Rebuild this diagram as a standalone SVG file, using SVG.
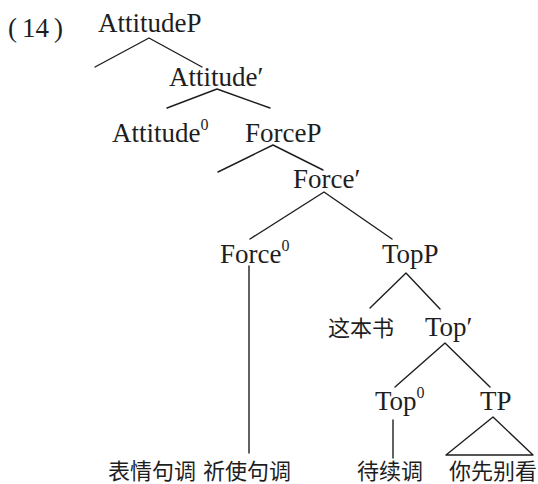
<svg xmlns="http://www.w3.org/2000/svg" width="538" height="484" viewBox="0 0 538 484">
<style>
  .lat { font-family: "Liberation Serif", "Times New Roman", serif; font-size: 27px; fill: #1e1e1e; }
  .sup { font-size: 16px; }
  .cjk { font-family: "Liberation Serif", "Noto Sans CJK SC", sans-serif; font-size: 22px; fill: #1e1e1e; }
  .edge { stroke: #1e1e1e; stroke-width: 1.4; fill: none; stroke-linecap: round; stroke-linejoin: round; }
</style>
<rect width="538" height="484" fill="#ffffff"/>
<text id="label" class="lat" x="8" y="37">(<tspan dx="5">14</tspan><tspan dx="5">)</tspan></text>
<g id="connectors">
  <path class="edge" d="M95,67 L149,38 L202,67"/>
  <path class="edge" d="M167,108 L217,89 L270,108"/>
  <path class="edge" d="M218,172 L273,145 L323,170"/>
  <path class="edge" d="M250,239 L324,192 L392,239"/>
  <path class="edge" d="M249,266 L249,453"/>
  <path class="edge" d="M370,308 L406,273 L440,309"/>
  <path class="edge" d="M395,387 L445,343 L490,387"/>
  <path class="edge" d="M393,420 L393,458"/>
  <path class="edge" d="M493,417 L446,455 L533,455 Z"/>
</g>
<g id="n-attitudeP"><text class="lat" x="98" y="32">AttitudeP</text></g>
<g id="n-attitudeBar"><text class="lat" x="169" y="86">Attitude′</text></g>
<g id="n-attitude0"><text class="lat" x="112" y="142">Attitude<tspan class="sup" dy="-12">0</tspan></text></g>
<g id="n-forceP"><text class="lat" x="245" y="142">ForceP</text></g>
<g id="n-forceBar"><text class="lat" x="293" y="188">Force′</text></g>
<g id="n-force0"><text class="lat" x="220" y="263">Force<tspan class="sup" dy="-12">0</tspan></text></g>
<g id="n-topP"><text class="lat" x="382" y="263">TopP</text></g>
<g id="n-zhebenshu"><text class="cjk" x="328" y="336">这本书</text></g>
<g id="n-topBar"><text class="lat" x="425" y="336">Top′</text></g>
<g id="n-top0"><text class="lat" x="375" y="410">Top<tspan class="sup" dy="-12">0</tspan></text></g>
<g id="n-TP"><text class="lat" x="480" y="410">TP</text></g>
<g id="n-force-leaves"><text class="cjk" x="108" y="479">表情句调</text><text class="cjk" x="203" y="479">祈使句调</text></g>
<g id="n-top-leaf"><text class="cjk" x="357" y="479">待续调</text></g>
<g id="n-tp-leaf"><text class="cjk" x="449" y="479">你先别看</text></g>
</svg>
